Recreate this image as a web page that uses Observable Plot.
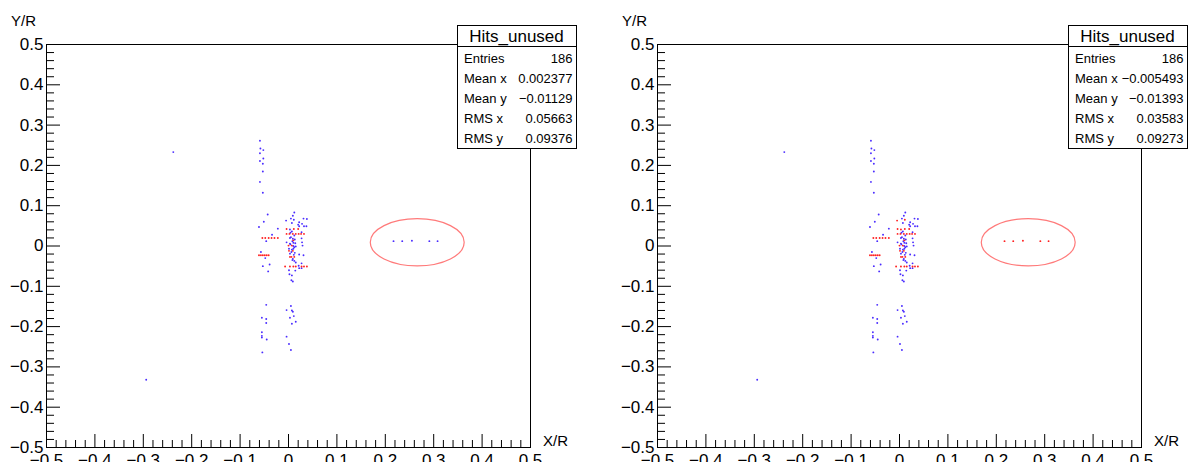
<!DOCTYPE html>
<html><head><meta charset="utf-8">
<script src="https://cdn.jsdelivr.net/npm/d3@7"></script>
<script src="https://cdn.jsdelivr.net/npm/@observablehq/plot@0.6"></script>
<style>
html,body{margin:0;padding:0;background:#fff;}
#wrap{display:flex;width:1192px;height:462px;overflow:hidden;}
#wrap svg{display:block;flex:none;}
</style></head><body><div id="wrap"></div>
<script>
// ---- data ----
const majorTicks = [-0.5,-0.4,-0.3,-0.2,-0.1,0,0.1,0.2,0.3,0.4,0.5];
const minorTicks = [-0.48,-0.46,-0.44,-0.42,-0.38,-0.36,-0.34,-0.32,-0.28,-0.26,-0.24,-0.22,-0.18,-0.16,-0.14,-0.12,-0.08,-0.06,-0.04,-0.02,0.02,0.04,0.06,0.08,0.12,0.14,0.16,0.18,0.22,0.24,0.26,0.28,0.32,0.34,0.36,0.38,0.42,0.44,0.46,0.48];

// hits drawn blue in both panels
const bluePoints = [
  [-0.238,0.233],[-0.294,-0.332],
  [-0.059,0.261],[-0.058,0.242],[-0.052,0.238],[-0.059,0.230],[-0.052,0.217],[-0.059,0.211],[-0.053,0.204],[-0.053,0.185],[-0.059,0.159],[-0.053,0.132],
  [-0.043,0.078],[-0.051,0.060],[-0.061,0.047],[-0.022,0.043],[-0.034,0.028],[-0.046,0.012],[-0.057,-0.015],[-0.048,-0.030],[-0.039,-0.046],[-0.053,-0.050],[-0.042,-0.063],
  [-0.046,-0.146],[-0.055,-0.178],[-0.046,-0.181],[-0.046,-0.191],[-0.055,-0.214],[-0.055,-0.223],[-0.055,-0.227],[-0.045,-0.232],[-0.054,-0.264],
  [0.012,0.083],[0.009,0.075],[0.005,0.068],[0.031,0.068],[0.038,0.067],[0.007,0.057],[0.022,0.059],[0.028,0.055],[0.020,0.053],[0.032,0.049],[0.037,0.049],[0.022,0.049],
  [0.007,0.036],[0.027,0.034],[0.004,0.033],
  [0.012,0.026],[0.003,0.020],[0.009,0.018],[0.013,0.016],[0.027,0.019],[0.005,0.022],[0.008,0.012],
  [-0.004,0.009],[0.003,0.006],[0.010,0.008],[0.014,0.007],[0.028,0.009],[0.004,0.004],
  [0.010,0.000],[0.015,-0.001],[0.029,0.001],[0.012,-0.003],
  [0.001,-0.007],[0.007,-0.009],[0.010,-0.007],[0.006,-0.015],
  [0.013,-0.017],[0.003,-0.019],[0.022,-0.021],[0.031,-0.023],[0.011,-0.022],
  [0.009,-0.032],[0.008,-0.035],[0.012,-0.037],[0.015,-0.041],[0.027,-0.043],[0.021,-0.049],
  [0.022,-0.055],[0.027,-0.055],[0.001,-0.060],[0.014,-0.061],[0.002,-0.070],[0.007,-0.073],[0.006,-0.085],[0.009,-0.088],
  [0.005,-0.149],[-0.004,-0.159],[0.007,-0.160],[0.009,-0.163],[0.011,-0.174],[0.003,-0.178],[0.015,-0.188],[0.007,-0.193],[-0.004,-0.225],[0.001,-0.243],[0.005,-0.258]
];
// hits drawn red in both panels
const redPoints = [
  [-0.054,0.020],[-0.048,0.020],[-0.041,0.020],[-0.035,0.020],[-0.029,0.020],[-0.022,0.020],
  [-0.061,-0.023],[-0.057,-0.023],[-0.053,-0.023],[-0.049,-0.023],[-0.045,-0.023],[-0.041,-0.023],
  [-0.004,0.042],[0.011,0.042],[0.020,0.042],
  [-0.004,0.030],[0.002,0.030],[0.009,0.030],[0.015,0.030],[0.021,0.030],[0.026,0.030],[0.032,0.030],
  [0.010,0.014],[0.000,0.001],[0.007,0.001],[0.001,-0.012],[0.009,-0.012],
  [0.003,-0.027],[0.006,-0.027],[0.012,-0.027],
  [-0.007,-0.051],[0.003,-0.051],[0.010,-0.051],[0.015,-0.051],[0.027,-0.051],[0.032,-0.051],[0.038,-0.051]
];
// hits blue in the left panel, red in the right panel
const swapPoints = [
  [0.217,0.012],[0.235,0.012],[0.255,0.013],[0.291,0.012],[0.308,0.012],
  [-0.005,0.063],[0.011,0.065],[0.003,0.041]
];
// ellipse annotation (centre x, centre y, radius x, radius y)
const ellipseX = 0.267, ellipseY = 0.008, ellipseRX = 0.097, ellipseRY = 0.0585;

const xTitle = "X/R", yTitle = "Y/R";
const statTitle = "Hits_unused";
const statLabels = ["Entries","Mean x","Mean y","RMS x","RMS y"];
const leftStats = ["186","0.002377","\u22120.01129","0.05663","0.09376"];
const rightStats = ["186","\u22120.005493","\u22120.01393","0.03583","0.09273"];

// ---- drawing ----
const FONT = "'Liberation Sans', Arial, Helvetica, sans-serif";
const BLUE = "#4a2cff", RED = "#ff2020";
const fmt = d => d === 0 ? "0" : d3.format("")(d);

function ellipseMark(index, scales) {
  const cx = scales.x(ellipseX), cy = scales.y(ellipseY);
  const rx = scales.x(ellipseX + ellipseRX) - cx;
  const ry = cy - scales.y(ellipseY + ellipseRY);
  return d3.create("svg:ellipse")
    .attr("cx", cx).attr("cy", cy).attr("rx", rx).attr("ry", ry)
    .attr("fill", "none").attr("stroke", "#ff7a7a").attr("stroke-width", 1.2).node();
}

function titlesMark(index, scales, vals, dims) {
  const xl = dims.marginLeft, xr = dims.width - dims.marginRight, yb = dims.height - dims.marginBottom;
  const g = d3.create("svg:g").attr("font-family", FONT).attr("font-size", 15).attr("fill", "#000");
  g.append("text").attr("x", xr + 13).attr("y", yb - 1).attr("text-anchor", "start").text(xTitle);
  g.append("text").attr("x", xl - 35).attr("y", 26).attr("text-anchor", "start").text(yTitle);
  return g.node();
}

function statsMark(values) {
  return (index, scales, vals, dims) => {
    const xr = dims.width - dims.marginRight;
    const x0 = xr - 73, x1 = xr + 46, y0 = 25, y1 = 148;
    const g = d3.create("svg:g").attr("font-family", FONT).attr("fill", "#000");
    g.append("rect").attr("x", x0 + 0.5).attr("y", y0 + 0.5).attr("width", x1 - x0).attr("height", y1 - y0)
      .attr("fill", "#fff").attr("stroke", "#000").attr("stroke-width", 1);
    g.append("line").attr("x1", x0 + 0.5).attr("x2", x1 + 0.5).attr("y1", 46.5).attr("y2", 46.5)
      .attr("stroke", "#000").attr("stroke-width", 1);
    g.append("text").attr("x", (x0 + x1) / 2).attr("y", 41.5).attr("text-anchor", "middle")
      .attr("font-size", 17).text(statTitle);
    statLabels.forEach((lab, i) => {
      const yb = 62.7 + i * 20.1;
      g.append("text").attr("x", x0 + 7).attr("y", yb).attr("font-size", 13).attr("text-anchor", "start").text(lab);
      g.append("text").attr("x", x1 - 3.5).attr("y", yb).attr("font-size", 13).attr("text-anchor", "end").text(values[i]);
    });
    return g.node();
  };
}

function panel({marginLeft, marginRight, stats, swapColor}) {
  const W = 596, H = 462, mt = 44, mb = 15;
  const iw = W - marginLeft - marginRight, ih = H - mt - mb;
  return Plot.plot({
    width: W, height: H, marginLeft, marginRight, marginTop: mt, marginBottom: mb,
    x: {domain: [-0.5, 0.5]},
    y: {domain: [-0.5, 0.5]},
    style: {fontFamily: FONT, fontSize: "17px", color: "#000", background: "#fff", overflow: "visible"},
    marks: [
      Plot.ruleX(minorTicks, {x: d => d, insetTop: ih - 7, stroke: "#000"}),
      Plot.ruleX(majorTicks, {x: d => d, insetTop: ih - 13, stroke: "#000"}),
      Plot.ruleY(minorTicks, {y: d => d, insetRight: iw - 8, stroke: "#000"}),
      Plot.ruleY(majorTicks, {y: d => d, insetRight: iw - 14, stroke: "#000"}),
      Plot.axisX(majorTicks, {tickSize: 0, tickPadding: 6, tickFormat: fmt, fontSize: 17, label: null}),
      Plot.axisY(majorTicks, {tickSize: 0, tickPadding: 3, tickFormat: fmt, fontSize: 17, label: null}),
      titlesMark,
      ellipseMark,
      Plot.dot(bluePoints, {x: d => d[0], y: d => d[1], r: 0.95, fill: BLUE}),
      Plot.dot(swapPoints, {x: d => d[0], y: d => d[1], r: 0.95, fill: swapColor}),
      Plot.dot(redPoints, {x: d => d[0], y: d => d[1], r: 0.95, fill: RED}),
      Plot.frame({stroke: "#000"}),
      statsMark(stats)
    ]
  });
}

const wrap = document.getElementById("wrap");
wrap.append(panel({marginLeft: 46, marginRight: 66, stats: leftStats, swapColor: BLUE}));
wrap.append(panel({marginLeft: 61, marginRight: 51, stats: rightStats, swapColor: RED}));
</script></body></html>
